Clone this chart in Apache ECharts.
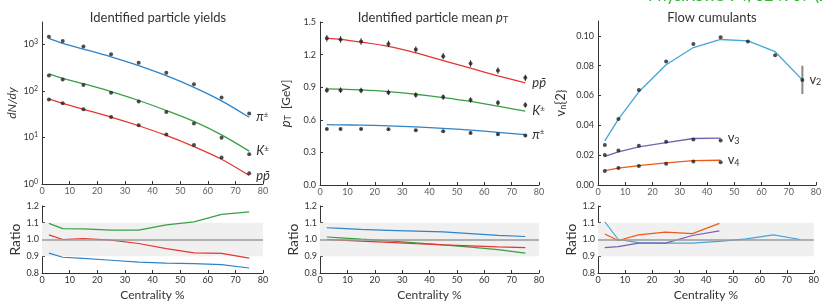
<!DOCTYPE html>
<html>
<head>
<meta charset="utf-8">
<script src="https://cdn.jsdelivr.net/npm/echarts@6/dist/echarts.min.js"></script>
<style>
  html, body { margin: 0; padding: 0; background: #fff; }
  #chart { width: 822px; height: 302px; }
</style>
</head>
<body>
<div id="chart"></div>
<script>
// centrality bins (%)
var cent = [2.5, 7.5, 15, 25, 35, 45, 55, 65, 75];
var centFlow = [2.5, 7.5, 15, 25, 35, 45];
// centrality tick labels
var xTickVals = [0, 10, 20, 30, 40, 50, 60, 70, 80];

// yields dN/dy (data points)
var yieldPi = [1456, 1178, 891, 612, 401, 245, 139, 72, 32.5];
var yieldK = [212, 174, 134, 91, 59, 35, 19.9, 9.8, 4.35];
var yieldP = [65.5, 53.8, 40, 27.5, 18.3, 11.6, 6.9, 3.7, 1.71];
// yields model curves
var yieldPiModel = [1340, 1048, 789, 535, 347, 211, 119, 61, 27];
var yieldKModel = [231, 185, 142, 96, 62, 37.8, 22, 11.3, 5.07];
var yieldPModel = [67.1, 53.8, 40.2, 27.4, 17.8, 11.0, 6.35, 3.4, 1.52];
// yields ratio model/data
var ratioYieldPi = [0.919, 0.894, 0.887, 0.876, 0.865, 0.859, 0.856, 0.85, 0.83];
var ratioYieldK = [1.096, 1.065, 1.063, 1.056, 1.056, 1.087, 1.105, 1.15, 1.165];
var ratioYieldP = [1.028, 1.0, 1.006, 0.996, 0.976, 0.946, 0.92, 0.917, 0.889];

// mean pT [GeV] (data points + errors)
var ptP = [1.35, 1.34, 1.32, 1.298, 1.246, 1.185, 1.118, 1.053, 0.986];
var ptK = [0.873, 0.873, 0.870, 0.852, 0.828, 0.809, 0.782, 0.757, 0.736];
var ptPi = [0.516, 0.516, 0.516, 0.513, 0.504, 0.495, 0.479, 0.467, 0.455];
var ptPErr = [0.03, 0.03, 0.03, 0.03, 0.03, 0.03, 0.03, 0.03, 0.03];
var ptKErr = [0.025, 0.025, 0.025, 0.025, 0.025, 0.025, 0.025, 0.025, 0.025];
var ptPiErr = [0.01, 0.01, 0.01, 0.01, 0.01, 0.01, 0.01, 0.01, 0.01];
// mean pT model curves
var ptPModel = [1.35, 1.34, 1.315, 1.275, 1.215, 1.145, 1.075, 1.005, 0.94];
var ptKModel = [0.885, 0.883, 0.876, 0.86, 0.835, 0.805, 0.77, 0.725, 0.68];
var ptPiModel = [0.555, 0.553, 0.551, 0.545, 0.535, 0.522, 0.505, 0.485, 0.463];
// mean pT ratio
var ratioPtPi = [1.07, 1.066, 1.06, 1.055, 1.05, 1.045, 1.035, 1.025, 1.018];
var ratioPtK = [1.015, 1.01, 1.002, 0.992, 0.98, 0.968, 0.955, 0.94, 0.919];
var ratioPtP = [1.0, 0.996, 0.99, 0.983, 0.975, 0.968, 0.962, 0.956, 0.952];

// flow cumulants vn{2}
var v2 = [0.0268, 0.0442, 0.0638, 0.0828, 0.0946, 0.0991, 0.0962, 0.0871, 0.0705];
var v2Err = [0, 0, 0, 0, 0, 0, 0, 0, 0.0095];
var v3 = [0.0201, 0.0232, 0.0263, 0.029, 0.0306, 0.0299];
var v4 = [0.0094, 0.0114, 0.0127, 0.0143, 0.0158, 0.0152];
var v2Model = [0.0296, 0.0442, 0.0625, 0.0807, 0.0922, 0.0976, 0.0967, 0.0894, 0.0705];
var v3Model = [0.0192, 0.0222, 0.0256, 0.0284, 0.0312, 0.0314];
var v4Model = [0.0097, 0.0113, 0.013, 0.0149, 0.0164, 0.0166];
var ratioV2 = [1.106, 1.0, 0.981, 0.978, 0.978, 0.989, 1.004, 1.028, 1.0];
var ratioV3 = [0.952, 0.957, 0.978, 0.978, 1.024, 1.052];
var ratioV4 = [1.033, 0.994, 1.028, 1.044, 1.035, 1.096];

var xTicks = [0, 80, 10];

// colours
var cBlue = '#2f83c6';
var cGreen = '#3a9e45';
var cRed = '#e63632';
var cV2 = '#45a6d6';
var cV3 = '#7a5eb4';
var cV4 = '#ee5a19';
var textColor = '#333';
var font = 'Lato';

function pairs(xs, ys) {
    var out = [];
    for (var i = 0; i < xs.length; i++) {
        out.push([xs[i], ys[i]]);
    }
    return out;
}

function errPairs(xs, ys, es) {
    var out = [];
    for (var i = 0; i < xs.length; i++) {
        out.push([xs[i], ys[i] - es[i], ys[i] + es[i]]);
    }
    return out;
}

var supRich = {
    i: { fontStyle: 'italic', fontSize: 13, color: textColor, fontFamily: font },
    s: { fontSize: 8, color: textColor, verticalAlign: 'top', padding: [0, 0, 6, 0], fontFamily: font },
    v: { fontSize: 13, color: textColor, fontFamily: font },
    sub: { fontSize: 9, color: textColor, verticalAlign: 'bottom', padding: [5, 0, 0, 0], fontFamily: font }
};

/**
 * x axis (centrality) for a grid
 */
function xAxis(gridIndex, withName) {
    var ax = {
        type: 'value',
        gridIndex: gridIndex,
        min: xTicks[0], max: xTicks[1], interval: xTicks[2],
        axisLine: { onZero: false, lineStyle: { color: '#333', width: 1 } },
        axisTick: { inside: true, length: 3, lineStyle: { color: '#333' } },
        axisLabel: { show: withName, fontSize: 9, color: textColor, margin: 3, fontFamily: font },
        splitLine: { show: false }
    };
    if (withName) {
        ax.name = 'Centrality %';
        ax.nameLocation = 'middle';
        ax.nameGap = 16;
        ax.nameTextStyle = { fontSize: 12, color: textColor, fontFamily: font };
    }
    return ax;
}

/**
 * tick numbers under a main plot: the axis' own labels don't show there,
 * so hang them off invisible points sitting on the x axis
 */
function tickRow(idx, yMin) {
    var data = [];
    for (var i = 0; i < xTickVals.length; i++) {
        data.push([xTickVals[i], yMin]);
    }
    return {
        type: 'scatter',
        xAxisIndex: idx, yAxisIndex: idx,
        data: data,
        symbolSize: 1,
        itemStyle: { color: 'rgba(0,0,0,0)' },
        clip: false,
        silent: true,
        label: {
            show: true,
            position: 'bottom',
            distance: 2,
            fontSize: 9,
            color: textColor,
            fontFamily: font,
            formatter: function (p) { return String(p.value[0]); }
        },
        labelLayout: { hideOverlap: false }
    };
}

/**
 * ratio y axis
 */
function ratioYAxis(gridIndex) {
    return {
        type: 'value',
        gridIndex: gridIndex,
        min: 0.8, max: 1.2, interval: 0.1,
        name: 'Ratio',
        nameLocation: 'middle',
        nameGap: 20,
        nameTextStyle: { fontSize: 14, color: textColor, fontFamily: font },
        axisLine: { show: true, lineStyle: { color: '#333', width: 1 } },
        axisTick: { show: true, inside: true, length: 3, lineStyle: { color: '#333' } },
        axisLabel: {
            fontSize: 9, color: textColor, margin: 3, fontFamily: font,
            formatter: function (v) { return v.toFixed(1); }
        },
        splitLine: { show: false }
    };
}

function modelLine(xi, yi, xs, ys, color, label, smooth) {
    return {
        type: 'line',
        xAxisIndex: xi, yAxisIndex: yi,
        data: pairs(xs, ys),
        showSymbol: false,
        smooth: smooth,
        lineStyle: { color: color, width: 1.3 },
        itemStyle: { color: color },
        z: 2,
        silent: true,
        endLabel: {
            show: true,
            formatter: label,
            distance: 7,
            rich: supRich
        }
    };
}

function dots(xi, yi, xs, ys) {
    return {
        type: 'scatter',
        xAxisIndex: xi, yAxisIndex: yi,
        data: pairs(xs, ys),
        symbol: 'circle',
        symbolSize: 4,
        itemStyle: { color: '#222' },
        z: 4,
        silent: true
    };
}

function errBars(xi, yi, xs, ys, es, color, width) {
    return {
        type: 'custom',
        xAxisIndex: xi, yAxisIndex: yi,
        data: errPairs(xs, ys, es),
        encode: { x: 0, y: [1, 2] },
        z: 3,
        silent: true,
        renderItem: function (params, api) {
            var p1 = api.coord([api.value(0), api.value(1)]);
            var p2 = api.coord([api.value(0), api.value(2)]);
            return {
                type: 'line',
                shape: { x1: p1[0], y1: p1[1], x2: p2[0], y2: p2[1] },
                style: { stroke: color, lineWidth: width }
            };
        }
    };
}

function ratioLine(xi, yi, xs, ys, color, withBand) {
    var s = {
        type: 'line',
        xAxisIndex: xi, yAxisIndex: yi,
        data: pairs(xs, ys),
        showSymbol: false,
        lineStyle: { color: color, width: 1.2 },
        itemStyle: { color: color },
        z: 3,
        silent: true
    };
    if (withBand) {
        // grey +-10% band and unity line
        s.markArea = {
            silent: true,
            itemStyle: { color: '#f0f0f0' },
            data: [[{ yAxis: 0.9 }, { yAxis: 1.1 }]]
        };
        s.markLine = {
            silent: true,
            symbol: 'none',
            label: { show: false },
            lineStyle: { color: '#9a9a9a', width: 1.6, type: 'solid' },
            data: [{ yAxis: 1.0 }]
        };
    }
    return s;
}

var chart = echarts.init(document.getElementById('chart'), null, { renderer: 'canvas' });

var option = {
    animation: false,
    backgroundColor: '#fff',
    textStyle: { fontFamily: font },
    title: [
        { text: 'Identified particle yields', left: 153, top: 6, textAlign: 'center',
          textStyle: { fontSize: 13, fontWeight: 'normal', color: textColor, fontFamily: font } },
        { text: 'Identified particle mean {i|p}{sub|T}', left: 428, top: 6, textAlign: 'center',
          textStyle: { fontSize: 13, fontWeight: 'normal', color: textColor, fontFamily: font, rich: supRich } },
        { text: 'Flow cumulants', left: 707, top: 6, textAlign: 'center',
          textStyle: { fontSize: 13, fontWeight: 'normal', color: textColor, fontFamily: font } }
    ],
    graphic: [
        { type: 'text', x: 648, y: -12, z: 10,
          style: { text: 'Phys.Rev.C 94, 024907 (2016)', fill: '#34b534', fontSize: 16, fontFamily: font } }
    ],
    grid: [
        { left: 42, top: 22, width: 221, height: 162 },
        { left: 320, top: 22, width: 219, height: 163 },
        { left: 598, top: 21, width: 218, height: 164 },
        { left: 42, top: 206, width: 221, height: 72 },
        { left: 320, top: 206, width: 219, height: 72 },
        { left: 598, top: 206, width: 218, height: 72 }
    ],
    xAxis: [
        xAxis(0, false), xAxis(1, false), xAxis(2, false),
        xAxis(3, true), xAxis(4, true), xAxis(5, true)
    ],
    yAxis: [
        {
            type: 'log', gridIndex: 0, logBase: 10, min: 1, max: 3000,
            name: 'dN/dy', nameLocation: 'middle', nameGap: 24,
            nameTextStyle: { fontSize: 12, fontStyle: 'italic', color: textColor, fontFamily: font },
            axisLine: { show: true, lineStyle: { color: '#333' } },
            axisTick: { show: true, inside: true, length: 3, lineStyle: { color: '#333' } },
            minorTick: { show: false },
            axisLabel: {
                showMaxLabel: false, margin: 4,
                formatter: function (v) {
                    return '{b|10}{e|' + Math.round(Math.log10(v)) + '}';
                },
                rich: {
                    b: { fontSize: 9, color: textColor, fontFamily: font },
                    e: { fontSize: 7, color: textColor, verticalAlign: 'top', padding: [0, 0, 5, 0], fontFamily: font }
                }
            },
            splitLine: { show: false }
        },
        {
            type: 'value', gridIndex: 1, min: 0, max: 1.5, interval: 0.3,
            name: '{i|p}{sub|T}  [GeV]', nameLocation: 'middle', nameGap: 27,
            nameTextStyle: { fontSize: 12, color: textColor, fontFamily: font, rich: supRich },
            axisLine: { show: true, lineStyle: { color: '#333' } },
            axisTick: { show: true, inside: true, length: 3, lineStyle: { color: '#333' } },
            axisLabel: { fontSize: 9, color: textColor, margin: 4, fontFamily: font,
                formatter: function (v) { return v.toFixed(1); } },
            splitLine: { show: false }
        },
        {
            type: 'value', gridIndex: 2, min: 0, max: 0.11, interval: 0.02,
            name: '{v|v}{sub|n}{v|{2}}', nameLocation: 'middle', nameGap: 30,
            nameTextStyle: { fontSize: 12, color: textColor, fontFamily: font, rich: supRich },
            axisLine: { show: true, lineStyle: { color: '#333' } },
            axisTick: { show: true, inside: true, length: 3, lineStyle: { color: '#333' } },
            axisLabel: { fontSize: 9, color: textColor, margin: 4, fontFamily: font, showMaxLabel: false,
                formatter: function (v) { return v.toFixed(2); } },
            splitLine: { show: false }
        },
        ratioYAxis(3), ratioYAxis(4), ratioYAxis(5)
    ],
    series: [
        // yields
        modelLine(0, 0, cent, yieldPiModel, cBlue, '{i|π}{s|±}', 0.3),
        modelLine(0, 0, cent, yieldKModel, cGreen, '{i|K}{s|±}', 0.3),
        modelLine(0, 0, cent, yieldPModel, cRed, '{i|pp̄}', 0.3),
        dots(0, 0, cent, yieldPi),
        dots(0, 0, cent, yieldK),
        dots(0, 0, cent, yieldP),
        // mean pT
        modelLine(1, 1, cent, ptPModel, cRed, '{i|pp̄}', 0.3),
        modelLine(1, 1, cent, ptKModel, cGreen, '{i|K}{s|±}', 0.3),
        modelLine(1, 1, cent, ptPiModel, cBlue, '{i|π}{s|±}', 0.3),
        errBars(1, 1, cent, ptP, ptPErr, '#333', 1),
        errBars(1, 1, cent, ptK, ptKErr, '#333', 1),
        errBars(1, 1, cent, ptPi, ptPiErr, '#333', 1),
        dots(1, 1, cent, ptP),
        dots(1, 1, cent, ptK),
        dots(1, 1, cent, ptPi),
        // flow
        modelLine(2, 2, cent, v2Model, cV2, '{v|v}{sub|2}', false),
        modelLine(2, 2, centFlow, v3Model, cV3, '{v|v}{sub|3}', false),
        modelLine(2, 2, centFlow, v4Model, cV4, '{v|v}{sub|4}', false),
        errBars(2, 2, cent, v2, v2Err, '#888', 2),
        dots(2, 2, cent, v2),
        dots(2, 2, centFlow, v3),
        dots(2, 2, centFlow, v4),
        // tick numbers under the main plots
        tickRow(0, 1),
        tickRow(1, 0),
        tickRow(2, 0),
        // ratios
        ratioLine(3, 3, cent, ratioYieldK, cGreen, true),
        ratioLine(3, 3, cent, ratioYieldP, cRed, false),
        ratioLine(3, 3, cent, ratioYieldPi, cBlue, false),
        ratioLine(4, 4, cent, ratioPtPi, cBlue, true),
        ratioLine(4, 4, cent, ratioPtK, cGreen, false),
        ratioLine(4, 4, cent, ratioPtP, cRed, false),
        ratioLine(5, 5, cent, ratioV2, cV2, true),
        ratioLine(5, 5, centFlow, ratioV3, cV3, false),
        ratioLine(5, 5, centFlow, ratioV4, cV4, false)
    ]
};

chart.setOption(option);
</script>
</body>
</html>
